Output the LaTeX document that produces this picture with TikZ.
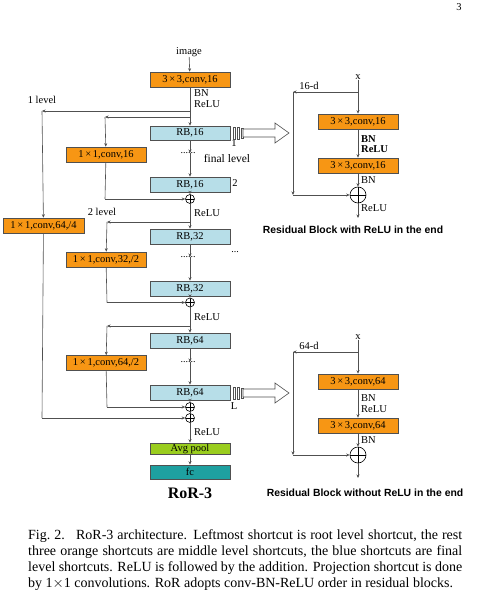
\documentclass[tikz,border=0pt]{standalone}
\usepackage{fontspec}
\setmainfont{Liberation Serif}
\newfontfamily\titlefont{Liberation Sans}
\usetikzlibrary{arrows.meta,calc}
\definecolor{orgC}{RGB}{247,150,20}
\definecolor{rbC}{RGB}{183,222,232}
\definecolor{avgC}{RGB}{154,205,30}
\definecolor{fcC}{RGB}{30,160,160}
\definecolor{lnC}{RGB}{80,80,80}
\newcommand\bigarrowat[1]{%
  \draw[ln,fill=white] (233,#1-6) rectangle (235.5,#1+6);
  \draw[ln,fill=white] (237,#1-6) rectangle (239.5,#1+6);
  \draw[ln,fill=white] (241,#1-5) rectangle (243,#1+5);
  \draw[ln,fill=white] (243,#1-4) -- (275,#1-4) -- (275,#1-10) -- (289,#1) -- (275,#1+10) -- (275,#1+4) -- (243,#1+4) -- cycle;}
\begin{document}
\begin{tikzpicture}[x=1pt,y=-1pt,
  box/.style={draw=lnC,line width=0.6pt,rectangle,minimum width=80pt,minimum height=15pt,inner sep=0pt,font=\fontsize{10.5}{10.5}\selectfont},
  obox/.style={box,fill=orgC},
  rbbox/.style={box,fill=rbC},
  ln/.style={draw=lnC,line width=0.6pt},
  arr/.style={ln,-{Stealth[length=3.5pt,width=3pt]}},
  plusnode/.style={circle,draw=black,line width=0.6pt,minimum size=#1,inner sep=0pt,
    path picture={\draw[line width=0.6pt] (path picture bounding box.north) -- (path picture bounding box.south) (path picture bounding box.west) -- (path picture bounding box.east);}},
  plusnode/.default=9pt,
  lbl/.style={font=\fontsize{10.5}{10.5}\selectfont,inner sep=0pt},
  blbl/.style={font=\fontsize{10.5}{10.5}\selectfont\bfseries,inner sep=0pt},
  ttl/.style={font=\fontsize{10.4}{10.4}\selectfont\titlefont\bfseries,inner sep=0pt},
  dots/.style={font=\fontsize{10}{10}\selectfont,inner sep=0pt},
  ]
\useasboundingbox (0,0) rectangle (485,604);
\node[lbl] (pg) at (459,7) {3};
% ---------- main chain ----------
\node[lbl] (img) at (189,52) {image};
\node[obox] (conv1) at (190,79.5) {3\,×\,3,conv,16};
\node[lbl,anchor=west] (bn1) at (194,93) {BN};
\node[lbl,anchor=west] (relu1) at (194,104) {ReLU};
\coordinate (c1) at (190,111);
\coordinate (c2) at (190,117);
\coordinate (L1) at (42,111);
\coordinate (L2) at (105,117);
\node[lbl] (lev1) at (42,100) {1 level};
\node[rbbox,minimum height=14pt] (rb1) at (190,133) {RB,16};
\coordinate (d1) at (190,153);
\node[dots] (dt1) at (188,153) {......};
\node[lbl,font=\fontsize{11.5}{11.5}\selectfont] (fin) at (227,159) {final level};
\node[rbbox] (rb2) at (190,184.5) {RB,16};
\node[lbl] (n1) at (234,143) {1};
\node[lbl] (n2) at (235,183) {2};
\node[plusnode] (p1) at (190,199) {};
\node[obox] (cv16) at (106,154.5) {1\,×\,1,conv,16};
\coordinate (b1) at (105,199);
\node[lbl,anchor=west] (relu2) at (194,213) {ReLU};
\node[lbl] (lev2) at (102,212) {2 level};
\coordinate (c3) at (190,222);
\coordinate (L3) at (107,222);
\node[obox,minimum width=81pt] (cv64a) at (43.5,225.5) {1\,×\,1,conv,64,/4};
\node[rbbox] (rb3) at (190,236.5) {RB,32};
\node[obox] (cv32) at (106,259.5) {1\,×\,1,conv,32,/2};
\coordinate (d2) at (190,257);
\node[dots] (dt2) at (188,257) {......};
\node[dots] (dt2b) at (235,252) {...};
\node[rbbox] (rb4) at (190,288.5) {RB,32};
\coordinate (b2) at (107,302.5);
\node[plusnode] (p2) at (190,302.5) {};
\node[lbl,anchor=west] (relu3) at (194,317) {ReLU};
\coordinate (c4) at (190,326);
\coordinate (L4) at (107,326);
\node[rbbox] (rb5) at (190,340.5) {RB,64};
\node[obox] (cv64b) at (106,363) {1\,×\,1,conv,64,/2};
\coordinate (d3) at (190,362);
\node[dots] (dt3) at (188,362) {......};
\node[rbbox] (rb6) at (190,392.5) {RB,64};
\node[lbl] (nL) at (234,406) {L};
\node[plusnode] (p3) at (190,407) {};
\node[plusnode] (p4) at (190,418) {};
\coordinate (b3) at (107,407);
\coordinate (b4) at (42,418);
\node[lbl,anchor=west] (relu4) at (194,432) {ReLU};
\node[box,fill=avgC,minimum height=11pt] (avg) at (190,448.5) {Avg pool};
\node[box,fill=fcC,minimum height=14pt] (fc) at (190,472) {fc};
\node[font=\fontsize{16}{16}\selectfont\bfseries,inner sep=0pt] (ror) at (190,493) {RoR-3};
% connectors main
\draw[arr] (img) -- (conv1);
\draw[ln] (conv1) -- (c1);
\draw[arr] (c1) -- (rb1);
\draw[arr] (c1) -- (L1);
\draw[arr] (L1) -- (cv64a);
\draw[arr] (c2) -- (L2);
\draw[arr] (L2) -- (cv16);
\draw[arr] (rb1) -- (d1);
\draw[arr] (d1) -- (rb2);
\draw[arr] (rb2) -- (p1);
\draw[ln] (cv16) -- (b1);
\draw[arr] (b1) -- (p1);
\draw[ln] (p1) -- (c3);
\draw[arr] (c3) -- (rb3);
\draw[arr] (c3) -- (L3);
\draw[arr] (L3) -- (cv32);
\draw[arr] (rb3) -- (d2);
\draw[arr] (d2) -- (rb4);
\draw[arr] (rb4) -- (p2);
\draw[ln] (cv32) -- (b2);
\draw[arr] (b2) -- (p2);
\draw[ln] (p2) -- (c4);
\draw[arr] (c4) -- (rb5);
\draw[arr] (c4) -- (L4);
\draw[arr] (L4) -- (cv64b);
\draw[arr] (rb5) -- (d3);
\draw[arr] (d3) -- (rb6);
\draw[arr] (rb6) -- (p3);
\draw[ln] (cv64b) -- (b3);
\draw[arr] (b3) -- (p3);
\draw[ln] (p3) -- (p4);
\draw[ln] (cv64a) -- (b4);
\draw[arr] (b4) -- (p4);
\draw[arr] (p4) -- (avg);
\draw[arr] (avg) -- (fc);
% block arrows
\bigarrowat{133}
\bigarrowat{393}
% ---------- right block 1 ----------
\node[lbl] (x1) at (358,77) {x};
\coordinate (t1) at (358,92);
\coordinate (tl1) at (293,92);
\coordinate (bl1) at (293,195);
\node[lbl] (d16) at (309,86) {16-d};
\node[obox] (rc1) at (358,121.5) {3\,×\,3,conv,16};
\node[blbl,anchor=west] (rbn1) at (361,139) {BN};
\node[blbl,anchor=west] (rrelu1) at (361,149.5) {ReLU};
\node[obox] (rc2) at (358,165.5) {3\,×\,3,conv,16};
\node[lbl,anchor=west] (rbn2) at (361,180.5) {BN};
\node[plusnode=16pt] (rp1) at (358,195) {};
\node[lbl,anchor=west] (rrelu2) at (361,208.5) {ReLU};
\coordinate (e1) at (358,218);
\node[ttl] (ttl1) at (353,230) {Residual Block with ReLU in the end};
\draw[ln] (x1) -- (t1);
\draw[arr] (t1) -- (rc1);
\draw[arr] (t1) -- (tl1);
\draw[arr] (tl1) -- (bl1);
\draw[arr] (bl1) -- (rp1);
\draw[arr] (rc1) -- (rc2);
\draw[arr] (rc2) -- (rp1);
\draw[arr] (rp1) -- (e1);
% ---------- right block 2 ----------
\node[lbl] (x2) at (358,337) {x};
\coordinate (t2) at (358,352);
\coordinate (tl2) at (293,352);
\coordinate (bl2) at (293,455);
\node[lbl] (d64) at (309,346) {64-d};
\node[obox] (rc3) at (358,381.5) {3\,×\,3,conv,64};
\node[lbl,anchor=west] (rbn3) at (361,398) {BN};
\node[lbl,anchor=west] (rrelu3) at (361,409.5) {ReLU};
\node[obox] (rc4) at (358,425.5) {3\,×\,3,conv,64};
\node[lbl,anchor=west] (rbn4) at (361,440.5) {BN};
\node[plusnode=16pt] (rp2) at (358,455) {};
\coordinate (e2) at (358,478);
\node[ttl] (ttl2) at (365,493) {Residual Block without ReLU in the end};
\draw[ln] (x2) -- (t2);
\draw[arr] (t2) -- (rc3);
\draw[arr] (t2) -- (tl2);
\draw[arr] (tl2) -- (bl2);
\draw[arr] (bl2) -- (rp2);
\draw[arr] (rc3) -- (rc4);
\draw[arr] (rc4) -- (rp2);
\draw[arr] (rp2) -- (e2);
% ---------- caption ----------
\node[anchor=north west,inner sep=0pt,text width=434pt,align=justify,
  font=\fontsize{14}{16}\selectfont] (cap) at (28,529)
 {Fig.~2.\hspace{0.8em}RoR-3 architecture. Leftmost shortcut is root level shortcut, the rest\linebreak
  three orange shortcuts are middle level shortcuts, the blue shortcuts are final\linebreak
  level shortcuts. ReLU is followed by the addition. Projection shortcut is done\linebreak
  by 1$\times$1 convolutions. RoR adopts conv-BN-ReLU order in residual blocks.};
\end{tikzpicture}
\end{document}
